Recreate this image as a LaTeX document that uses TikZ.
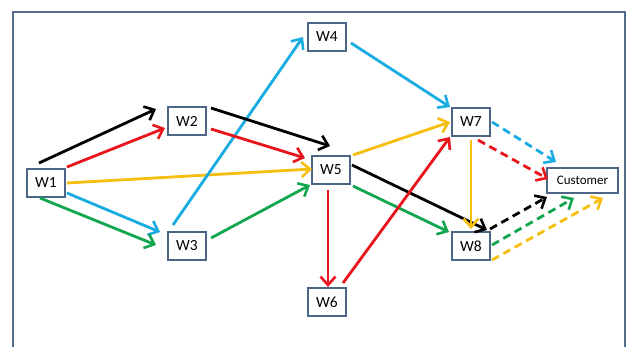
\documentclass[tikz,border=0pt]{standalone}
\usepackage{fontspec}
\setmainfont{Carlito}
\usetikzlibrary{arrows.meta,calc}
\definecolor{frameblue}{HTML}{546A8A}
\definecolor{boxblue}{HTML}{4D6586}
\definecolor{cred}{HTML}{E8161C}
\definecolor{cyel}{HTML}{F6BE0E}
\definecolor{cblue}{HTML}{18ACE2}
\definecolor{cgreen}{HTML}{12A64E}
\tikzset{
  wbox/.style={draw=boxblue,line width=1.5pt,fill=white,minimum width=38pt,minimum height=28pt,inner sep=0pt,font=\fontsize{15.5}{17}\selectfont},
  custbox/.style={wbox,minimum width=71pt,minimum height=25pt,font=\fontsize{13}{15}\selectfont},
  flow/.style={line width=2.8pt,-{Straight Barb[length=8.5pt,width=15pt,line width=2.6pt]}},
  dflow/.style={flow,dash pattern=on 8pt off 5pt},
}
\begin{document}
\begin{tikzpicture}[x=1pt,y=-1pt]
\useasboundingbox (0,0) rectangle (632,346);
\clip (0,0) rectangle (632,346);
\fill[white] (0,0) rectangle (632,346);
\draw[frameblue,line width=2pt] (13,12) rectangle (625,370);
\node[wbox] (W1) at (46,183) {W1};
\node[wbox] (W2) at (187,121) {W2};
\node[wbox] (W3) at (187,246) {W3};
\node[wbox] (W4) at (327,37) {W4};
\node[wbox] (W5) at (331,170) {W5};
\node[wbox] (W6) at (327,302) {W6};
\node[wbox] (W7) at (471,122) {W7};
\node[wbox] (W8) at (471,246) {W8};
\node[custbox] (C) at (582.5,180.5) {Customer};
% W1 outgoing
\draw[flow,black] ($(W1)+(-7,-20)$) -- ($(W2)+(-31,-12)$);
\draw[flow,cred] ($(W1)+(21,-16)$) -- ($(W2)+(-22,7)$);
\draw[flow,cyel] ($(W1)+(21,0)$) -- ($(W5)+(-19,-1)$);
\draw[flow,cblue] ($(W1)+(21,10)$) -- ($(W3)+(-27,-14)$);
\draw[flow,cgreen] ($(W1)+(-6,15)$) -- ($(W3)+(-31,-1)$);
% W3 to W4
\draw[flow,cblue] ($(W3)+(-14,-21)$) -- ($(W4)+(-24,0)$);
% W2, W3 to W5
\draw[flow,black] ($(W2)+(24,-13)$) -- ($(W5)+(-1,-24)$);
\draw[flow,cred] ($(W2)+(24,8)$) -- ($(W5)+(-26,-12)$);
\draw[flow,cgreen] ($(W3)+(24,-8)$) -- ($(W5)+(-21,15)$);
% W4 to W7
\draw[flow,cblue] ($(W4)+(24,6)$) -- ($(W7)+(-21,-15)$);
% W5 outgoing
\draw[flow,cyel] ($(W5)+(22,-15)$) -- ($(W7)+(-21,0)$);
\draw[flow,black] ($(W5)+(21,-5)$) -- ($(W8)+(16,-16)$);
\draw[flow,cgreen] ($(W5)+(22,16)$) -- ($(W8)+(-22,-14)$);
\draw[flow,cred] ($(W5)+(-3,20)$) -- ($(W6)+(1,-15)$);
% W6 to W7
\draw[flow,cred] ($(W6)+(16,-19)$) -- ($(W7)+(-21,15)$);
% W7 to W8
\draw[flow,cyel] ($(W7)+(0,18)$) -- ($(W8)+(0,-17)$);
% to Customer
\draw[dflow,cblue] ($(W7)+(21,0)$) -- ($(C)+(-26.5,-18.5)$);
\draw[dflow,cred] ($(W7)+(7,18)$) -- ($(C)+(-34.5,-1.5)$);
\draw[dflow,black] ($(W8)+(19,-17)$) -- ($(C)+(-35.5,16.5)$);
\draw[dflow,cgreen] ($(W8)+(21,-1)$) -- ($(C)+(-8.5,17.5)$);
\draw[dflow,cyel] ($(W8)+(21,14)$) -- ($(C)+(20.5,17.5)$);
\end{tikzpicture}
\end{document}
